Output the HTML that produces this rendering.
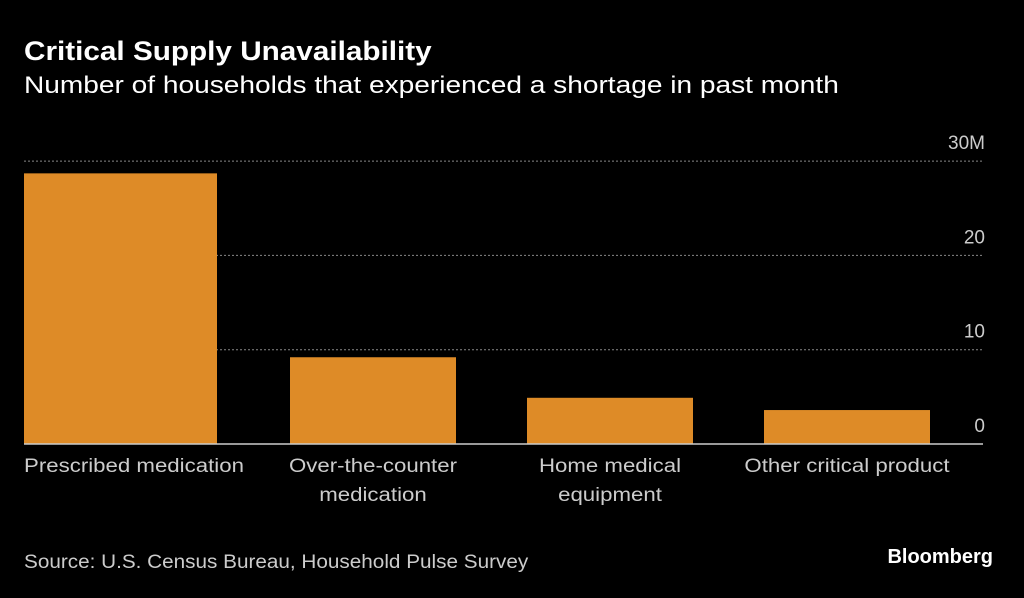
<!DOCTYPE html>
<html><head><meta charset="utf-8"><style>
body{margin:0;background:#000;width:1024px;height:593px;overflow:hidden;font-family:"Liberation Sans",sans-serif;color:#fff}
</style></head><body>
<svg width="1024" height="593">
<text class="st" data-k="1.1" x="24" y="60" font-size="27" font-weight="bold" fill="#fff">Critical Supply Unavailability</text>
<text class="st" data-k="1.17" x="24" y="93" font-size="24" fill="#fff">Number of households that experienced a shortage in past month</text>
<g id="grid"></g><g id="bars"></g><g id="xl"></g>
<text class="st" data-k="1.09" x="24" y="568" font-size="19" fill="#ccc">Source: U.S. Census Bureau, Household Pulse Survey</text>
<text x="993" y="563" font-size="20" font-weight="bold" fill="#fff" text-anchor="end">Bloomberg</text>
</svg>
<script>
const categories=[["Prescribed medication"],["Over-the-counter","medication"],["Home medical","equipment"],["Other critical product"]];
const values=[28.7,9.2,4.9,3.6];
const ticks=[0,10,20,30];
const tickLabels=["0","10","20","30M"];
const NS="http://www.w3.org/2000/svg";
const y0=444,pxPer=9.43,left=24,right=983,bw=166,step=237;
const y=v=>y0-v*pxPer;
function mk(t,a,p){const e=document.createElementNS(NS,t);for(const k in a)e.setAttribute(k,a[k]);p.appendChild(e);return e;}
const g=document.getElementById('grid');
ticks.forEach((t,i)=>{
 if(t>0){const l=mk('line',{x1:left,x2:right,y1:y(t),y2:y(t),stroke:'#888','stroke-dasharray':'2,2','stroke-width':1},g);
 
 }
 const tx=mk('text',{x:985,y:y(t)-12,'font-size':19,fill:'#ccc','text-anchor':'end'},g);
 tx.textContent=tickLabels[i];
 
 
});
const b=document.getElementById('bars');
values.forEach((v,i)=>{
 const x0=i===0?24:290+(i-1)*step;const w=i===0?193:bw;
 const r=mk('rect',{x:x0,y:y(v),width:w,height:y0-y(v),fill:'#de8b27'},b);
 
 
 const xl=document.getElementById('xl');
 categories[i].forEach((s,j)=>{const t=mk('text',{x:i===0?24:x0+w/2,y:472+j*29,'font-size':19,fill:'#ccc','text-anchor':i===0?'start':'middle','data-k':'1.17'},xl);
 t.setAttribute('class','st');
 t.textContent=s;
 
 });
});
const base=mk('line',{x1:left,x2:right,y1:y0,y2:y0,stroke:'#ccc','stroke-width':1.5},g.parentNode);


document.querySelectorAll('.st').forEach(t=>{const k=parseFloat(t.getAttribute('data-k'));t.setAttribute('textLength',t.getComputedTextLength()*k);t.setAttribute('lengthAdjust','spacingAndGlyphs');});
</script>
</body></html>
